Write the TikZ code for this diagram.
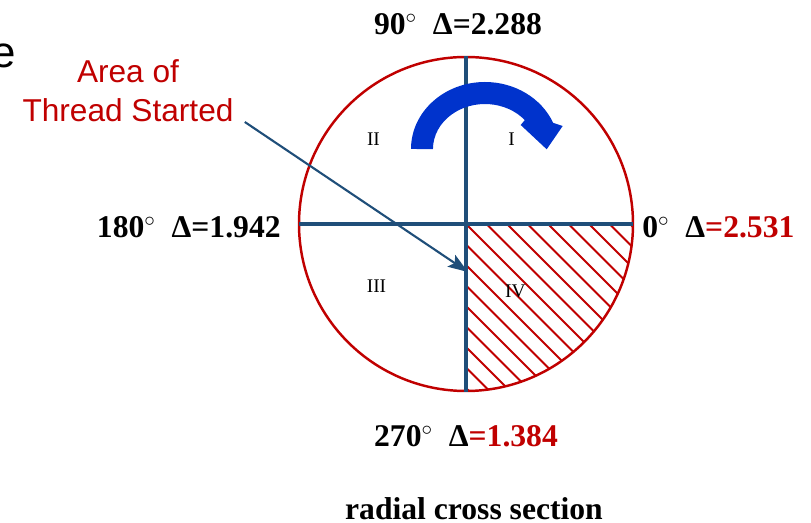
\documentclass[tikz,border=0pt]{standalone}
\usepackage{fontspec}
\setmainfont{Liberation Serif}
\newfontfamily\arialfont{Liberation Sans}
\usetikzlibrary{arrows.meta}
\definecolor{axisblue}{HTML}{1F4E79}
\definecolor{turnblue}{HTML}{0033CC}
\definecolor{threadred}{HTML}{C00000}

\begin{document}
\begin{tikzpicture}[x=0.02cm, y=0.02cm,
    axis/.style={axisblue, line width=1.9pt},
    hatch/.style={threadred, line width=1.2pt},
    angle label/.style={inner sep=0pt, font=\fontsize{18}{22}\selectfont\bfseries},
    quadrant/.style={inner sep=0pt, font=\fontsize{11}{13}\selectfont},
    callout/.style={inner sep=0pt, text=threadred, font=\arialfont\fontsize{18}{22}\selectfont},
    pointer/.style={axisblue, line width=1.2pt, -{Stealth[length=0.4cm, width=0.28cm, inset=0.08cm]}}]
    \useasboundingbox (-466,-299) rectangle (345,224);

    % Hatch the quadrant where the thread started
    \begin{scope}
        \clip (0,0) -- (167,0) arc[start angle=0, end angle=-90, radius=167] -- cycle;
        \foreach \k in {-8,...,8} {
            \draw[hatch] ({20.5*\k-20},20) -- ({20.5*\k+200},-200);
        }
    \end{scope}

    % Cross section and its axes
    \draw[threadred, line width=1.4pt] (0,0) circle (167);
    \draw[axis] (-167,0) -- (167,0);
    \draw[axis] (0,168) -- (0,-168);

    % Turning direction (ribbon arrow, clockwise)
    \fill[turnblue] (-55,75) arc[start angle=180, end angle=23, x radius=74, y radius=67]
        -- (96.7,98) -- (80.7,74.7) -- (54.7,99) -- (58.8,103.9)
        arc[start angle=40, end angle=180, x radius=52, y radius=45] -- cycle;

    % Quadrants
    \node[quadrant, anchor=base] (q1) at (45.7,78) {I};
    \node[quadrant, anchor=base] (q2) at (-92.5,78) {II};
    \node[quadrant, anchor=base] (q3) at (-89.5,-69) {III};
    \node[quadrant, anchor=base] (q4) at (49.3,-74) {IV};

    % Angles and deviations
    \node[angle label, anchor=base] (north) at (-8,189) {90$^\circ$\enspace Δ=2.288};
    \node[angle label, anchor=base west] (east) at (176,-14) {0$^\circ$\enspace Δ\textcolor{threadred}{=2.531}};
    \node[angle label, anchor=base east] (west) at (-185,-14) {180$^\circ$\enspace Δ=1.942};
    \node[angle label, anchor=base] (south) at (0,-223) {270$^\circ$\enspace Δ\textcolor{threadred}{=1.384}};
    \node[angle label, anchor=base] (caption) at (8,-296) {radial cross section};

    % Callout for the start of the thread
    \node[inner sep=0pt, anchor=base east, font=\arialfont\fontsize{25}{30}\selectfont] (cut) at (-450,156) {e};
    \node[callout, anchor=base] (area) at (-338,141) {Area of};
    \node[callout, anchor=base] (thread) at (-338,102) {Thread Started};
    \coordinate (tip) at (2,-48);
    \draw[pointer] ([xshift=0.22cm]thread.base east) -- (tip);
\end{tikzpicture}
\end{document}
